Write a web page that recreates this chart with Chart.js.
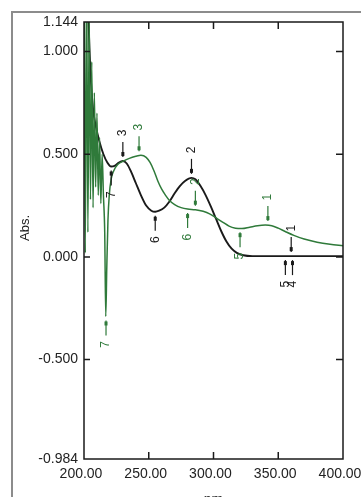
<!DOCTYPE html>
<html>
<head>
<meta charset="utf-8">
<script src="https://cdn.jsdelivr.net/npm/chart.js@4.4.0/dist/chart.umd.min.js"></script>
<style>
  html, body { margin: 0; padding: 0; background: #fff; }
  #wrap { position: relative; width: 361px; height: 497px; overflow: hidden; }
  #frame { position: absolute; left: 11px; top: 11px; width: 400px; height: 600px; border-left: 2px solid #8c8c8c; border-top: 2px solid #8c8c8c; }
  canvas { position: absolute; left: 0; top: 0; }
</style>
</head>
<body>
<div id="wrap">
  <div id="frame"></div>
  <canvas id="spec" width="361" height="497"></canvas>
</div>
<script>
// spectra (nm / Abs.)
const blackNm  = [200, 202, 203.5, 205, 207, 209, 212, 215, 218, 221, 224, 227, 230, 233, 236, 240, 244, 248, 252, 255, 258, 262, 266, 270, 274, 278, 283, 286, 290, 294, 298, 302, 306, 310, 314, 318, 323, 330, 345, 360, 380, 400];
const blackAbs = [3.0, 1.6, 1.15, 0.9, 0.72, 0.64, 0.56, 0.5, 0.46, 0.44, 0.445, 0.46, 0.467, 0.455, 0.42, 0.36, 0.3, 0.25, 0.225, 0.22, 0.225, 0.24, 0.27, 0.31, 0.345, 0.37, 0.385, 0.378, 0.345, 0.3, 0.245, 0.185, 0.125, 0.075, 0.04, 0.02, 0.008, 0.004, 0.004, 0.004, 0.004, 0.004];

const greenNm  = [200, 201, 202, 203, 204, 205, 206, 207, 208, 209, 210, 211, 212, 213, 214, 215, 216, 216.8, 217.6, 218.5, 219.5, 221, 223, 226, 230, 235, 240, 244, 248, 251, 254, 257, 260, 263, 266, 270, 275, 280, 286, 292, 297, 302, 307, 312, 317, 322, 328, 334, 340, 345, 350, 355, 362, 370, 380, 390, 400];
const greenAbs = [1.5, 0.02, 1.4, 0.12, 1.2, 0.28, 0.95, 0.24, 0.8, 0.34, 0.7, 0.3, 0.58, 0.26, 0.5, 0.3, 0.12, -0.29, -0.05, 0.18, 0.3, 0.38, 0.42, 0.45, 0.465, 0.48, 0.49, 0.495, 0.485, 0.46, 0.42, 0.37, 0.33, 0.3, 0.275, 0.255, 0.24, 0.233, 0.23, 0.222, 0.21, 0.19, 0.17, 0.15, 0.14, 0.138, 0.145, 0.152, 0.155, 0.152, 0.14, 0.125, 0.105, 0.087, 0.072, 0.062, 0.055];

const xTicks = [200, 250, 300, 350, 400];
const yTicks = [-0.984, -0.5, 0, 0.5, 1.0, 1.144];

// peak picks: [nm, abs, label, side]  side 1 = arrow from above, -1 = from below
const blackMarks = [[221, 0.44, '7', -1], [230, 0.467, '3', 1], [255, 0.22, '6', -1], [283, 0.385, '2', 1], [355.5, 0.004, '5', -1], [361, 0.004, '4', -1], [360, 0.004, '1', 1]];
const greenMarks = [[217, -0.29, '7', -1], [242.5, 0.495, '3', 1], [280, 0.233, '6', -1], [286, 0.23, '2', 1], [320.5, 0.14, '5', -1], [342, 0.155, '1', 1]];

const GREEN = '#2f7a3a';
const INK = '#1a1a1a';
const FONT = '"Liberation Sans", Arial, sans-serif';

const pts = (xs, ys) => xs.map((x, i) => ({ x: x, y: ys[i] }));

function drawMarks(ctx, xs, ys, marks, color) {
    ctx.strokeStyle = color; ctx.fillStyle = color; ctx.lineWidth = 1.2;
    ctx.font = '12px ' + FONT;
    ctx.textAlign = 'center'; ctx.textBaseline = 'middle';
    marks.forEach(m => {
        const px = xs.getPixelForValue(m[0]);
        const py = ys.getPixelForValue(m[1]);
        const d = m[3];
        ctx.beginPath();
        ctx.moveTo(px, py - d * 4);
        ctx.lineTo(px, py - d * 19);
        ctx.stroke();
        ctx.fillRect(px - 1.5, py - d * 7 - 2, 3, 4);
        ctx.save();
        ctx.translate(px, py - d * 28);
        ctx.rotate(-Math.PI / 2);
        ctx.fillText(m[2], 0, 0);
        ctx.restore();
    });
}

const framePlugin = {
    id: 'frame',
    afterDatasetsDraw(chart) {
        const { ctx, chartArea: a } = chart;
        const xs = chart.scales.x, ys = chart.scales.y;
        ctx.save();
        ctx.strokeStyle = INK; ctx.lineWidth = 1.5;
        ctx.strokeRect(a.left, a.top, a.right - a.left, a.bottom - a.top);
        ctx.beginPath();
        xTicks.slice(1, -1).forEach(v => {
            const px = xs.getPixelForValue(v);
            ctx.moveTo(px, a.bottom); ctx.lineTo(px, a.bottom - 7);
            ctx.moveTo(px, a.top); ctx.lineTo(px, a.top + 7);
        });
        yTicks.slice(1, -1).forEach(v => {
            const py = ys.getPixelForValue(v);
            ctx.moveTo(a.left, py); ctx.lineTo(a.left + 6, py);
            ctx.moveTo(a.right, py); ctx.lineTo(a.right - 7, py);
        });
        ctx.stroke();

        drawMarks(ctx, xs, ys, greenMarks, GREEN);
        drawMarks(ctx, xs, ys, blackMarks, INK);

        // axis titles
        ctx.fillStyle = '#222';
        ctx.font = '14px ' + FONT;
        ctx.textAlign = 'center'; ctx.textBaseline = 'middle';
        ctx.fillText('nm', (a.left + a.right) / 2, 500);
        ctx.save();
        ctx.translate(25, 228);
        ctx.rotate(-Math.PI / 2);
        ctx.font = '13px ' + FONT;
        ctx.fillText('Abs.', 0, 0);
        ctx.restore();
        ctx.restore();
    }
};

new Chart(document.getElementById('spec'), {
    type: 'line',
    data: {
        datasets: [
            { data: pts(greenNm, greenAbs), borderColor: GREEN, borderWidth: 1.5, pointRadius: 0, cubicInterpolationMode: 'monotone' },
            { data: pts(blackNm, blackAbs), borderColor: INK, borderWidth: 1.9, pointRadius: 0, cubicInterpolationMode: 'monotone' }
        ]
    },
    options: {
        responsive: false,
        animation: false,
        devicePixelRatio: 1,
        layout: { padding: { top: 22, right: 18, left: 0, bottom: 0 } },
        plugins: { legend: { display: false }, tooltip: { enabled: false } },
        scales: {
            x: {
                type: 'linear', min: 200, max: 400,
                afterBuildTicks: s => { s.ticks = xTicks.map(v => ({ value: v })); },
                afterFit: s => { s.height = 38; s.paddingLeft = 0; s.paddingRight = 0; },
                grid: { display: false, drawTicks: false },
                border: { display: false },
                ticks: { callback: v => v.toFixed(2), font: { family: FONT, size: 14 }, color: '#222', padding: 7, maxRotation: 0, autoSkip: false, labelOffset: -3 }
            },
            y: {
                type: 'linear', min: -0.984, max: 1.144,
                afterBuildTicks: s => { s.ticks = yTicks.map(v => ({ value: v })); },
                afterFit: s => { s.width = 84; s.paddingTop = 0; s.paddingBottom = 0; },
                grid: { display: false, drawTicks: false },
                border: { display: false },
                ticks: { callback: v => v.toFixed(3), font: { family: FONT, size: 14 }, color: '#222', padding: 6, autoSkip: false }
            }
        }
    },
    plugins: [framePlugin]
});
</script>
</body>
</html>
